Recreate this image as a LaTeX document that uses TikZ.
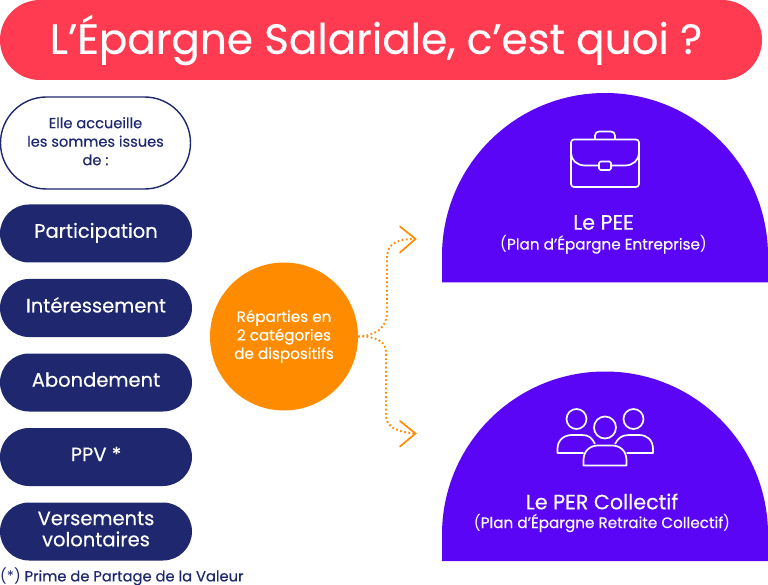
\documentclass[tikz,border=0pt]{standalone}
\usepackage{fontspec}
\setmainfont{Poppins}[FakeBold=0.35]
\newfontfamily\lightf{Poppins}
\newcommand{\lighttxt}[1]{{\lightf #1}}
\newcommand{\up}[2][1.5pt]{\raisebox{#1}{\begin{tabular}{@{}c@{}}#2\end{tabular}}}
\definecolor{rouge}{HTML}{FF3B52}
\definecolor{marine}{HTML}{1F286E}
\definecolor{violet}{HTML}{5A05F5}
\definecolor{orangeb}{HTML}{FF8C00}
\tikzset{
  pill/.style={rounded corners=29pt,fill=marine,text=white,minimum width=192pt,minimum height=58pt,inner sep=0pt,align=center,anchor=center,font=\fontsize{19.5}{21}\selectfont},
  dome/.style={fill=violet},
  icon/.style={draw=white,line width=1.7pt,line join=round},
  dotline/.style={draw=orangeb,line width=1.9pt,dash pattern=on 1.7pt off 2.5pt},
  tip/.style={draw=orangeb,line width=1.7pt,line cap=round,line join=miter},
  domehead/.style={text=white,font=\fontsize{20.7}{24}\selectfont,anchor=center},
  domesub/.style={text=white,font=\fontsize{15.2}{18}\selectfont,anchor=center},
}
\begin{document}
\begin{tikzpicture}[x=1pt,y=-1pt]
\useasboundingbox (0,0) rectangle (768,585);
\fill[white] (0,0) rectangle (768,585);
\node[fill=rouge,rounded corners=40pt,minimum width=762pt,minimum height=80pt,inner sep=0pt,anchor=center,font=\fontsize{42.1}{48}\selectfont,text=white] (title) at (381,40) {\hspace{-10pt}\raisebox{1pt}{L’Épargne Salariale, c’est quoi ?}};
\node[draw=marine,line width=1.4pt,fill=white,rounded corners=46pt,minimum width=190pt,minimum height=92pt,inner sep=0pt,align=center,text=marine,font=\fontsize{14.6}{18.5}\selectfont] (intro) at (95.5,143) {\up[2pt]{Elle accueille\\les sommes issues\\de :}};
\node[pill] (p1) at (96,233.5) {\up{Participation}};
\node[pill] (p2) at (96,308) {\up{Intéressement}};
\node[pill] (p3) at (96,382.5) {\up{Abondement}};
\node[pill] (p4) at (96,457) {\up{PPV *}};
\node[pill] (p5) at (96,531.5) {\up[0.5pt]{Versements\\volontaires}};
\node[anchor=west,inner sep=0pt,text=marine,font=\fontsize{14.7}{16}\selectfont] (note) at (0,576.5) {\lighttxt{(*)} Prime de Partage de la Valeur};
\node[circle,fill=orangeb,minimum size=148pt,inner sep=0pt,text=white,align=center,font=\fontsize{15.2}{18.5}\selectfont] (rep) at (284,336.5) {Réparties en\\2 catégories\\de dispositifs};
\coordinate (t1) at (415.5,239);
\coordinate (t2) at (415.5,433.5);
\draw[dotline] (rep.east) .. controls (375,336) and (387,328) .. (387,312) -- (387,258) .. controls (387,243) and (398,239) .. (t1);
\draw[dotline] (rep.east) .. controls (375,336) and (386,341) .. (386,352) -- (386,415) .. controls (386,428) and (398,432) .. (t2);
\draw[tip] (400,226.5) -- (t1) -- (400,252.5);
\draw[tip] (400,421) -- (t2) -- (400,446.5);
% domes
\path[dome] (442,282.5) -- (442,256) arc[start angle=180,end angle=360,radius=163] -- (768,282.5) -- cycle;
\path[dome] (442,561) -- (442,534.5) arc[start angle=180,end angle=360,radius=163] -- (768,561) -- cycle;
\node[domehead] (pee) at (603.5,222.5) {Le PEE};
\node[domesub] (peesub) at (603.5,244.5) {\lighttxt{(}Plan d’Épargne Entreprise\lighttxt{)}};
\node[domehead] (per) at (602,501.5) {Le PER Collectif};
\node[domesub] (persub) at (602,523) {\lighttxt{(}Plan d’Épargne Retraite Collectif\lighttxt{)}};
% briefcase
\draw[icon,rounded corners=3pt] (571,139.5) rectangle (639,187);
\draw[icon,rounded corners=4pt] (595,139.5) -- (595,131.5) -- (615,131.5) -- (615,139.5);
\draw[icon] (571,153) .. controls (571,160) and (577,165.5) .. (585,165.5) -- (599,165.5);
\draw[icon] (639,153) .. controls (639,160) and (633,165.5) .. (625,165.5) -- (611,165.5);
\draw[icon,rounded corners=1.5pt] (599,161.5) rectangle (611,170);
% group
\draw[icon] (576.5,419) circle (10);
\draw[icon] (633.5,419) circle (10);
\draw[icon] (605,427.5) circle (11);
\draw[icon] (583.5,453) -- (557.5,453) -- (557.5,449) .. controls (557.5,440) and (564,435) .. (572,435) -- (582,435) .. controls (589,435) and (592,438) .. (595,444);
\draw[icon] (626.5,453) -- (653,453) -- (653,449) .. controls (653,440) and (647,435) .. (639,435) -- (629,435) .. controls (622,435) and (618,438) .. (615,444);
\draw[icon] (583.5,465.5) -- (626.5,465.5) -- (626.5,460) .. controls (626.5,451) and (620,445.5) .. (612,445.5) -- (598,445.5) .. controls (590,445.5) and (583.5,451) .. (583.5,460) -- cycle;
\end{tikzpicture}
\end{document}
